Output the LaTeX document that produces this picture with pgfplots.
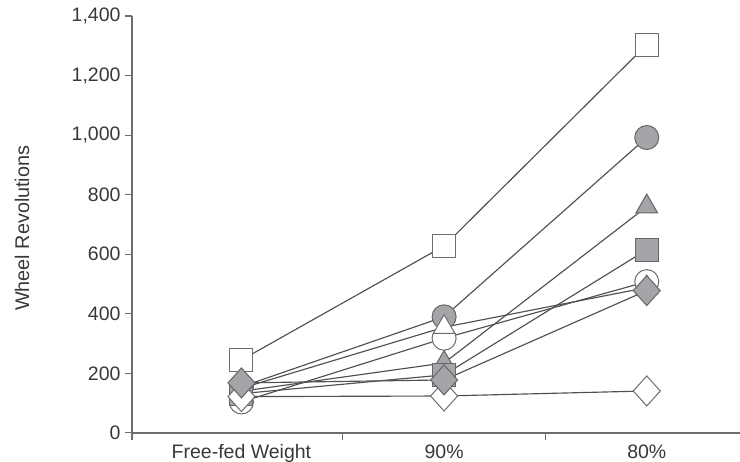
\documentclass[border=0pt]{standalone}
\usepackage{fontspec}
\setmainfont{Liberation Sans}
\usepackage{pgfplots}
\pgfplotsset{compat=1.18}
\definecolor{linec}{HTML}{505050}
\definecolor{fillc}{HTML}{A4A4A9}
\definecolor{edgec}{HTML}{666666}
\definecolor{txt}{HTML}{383838}
\definecolor{axc}{HTML}{6E6E6E}
\begin{document}
\begin{tikzpicture}
\useasboundingbox (-132pt,-21.6pt) rectangle (608pt,440.4pt);
\begin{axis}[
  at={(0,0)}, anchor=south west, scale only axis,
  width=608pt, height=424.4pt,
  xmin=-0.54, xmax=2.46, ymin=-25, ymax=1400,
  axis y line=left, axis x line=middle,
  axis line style={-, draw=axc, line width=1.2pt},
  hide obscured x ticks=false, hide obscured y ticks=false,
  tick align=outside,
  major tick length=7pt,
  tick style={draw=axc, line width=1.1pt},
  ytick={0,200,400,600,800,1000,1200,1400},
  xtick={0.5,1.5}, xticklabels={},
  extra x ticks={0,1,2},
  extra x tick labels={Free-fed Weight,90\%,80\%},
  extra x tick style={major tick length=0pt, tick style={draw=none},
     xticklabel style={yshift=-8pt}},
  /pgf/number format/.cd, 1000 sep={,}, assume math mode=true, /pgfplots/.cd,
  tick label style={font=\fontsize{19.5}{23}\selectfont, text=txt},
  yticklabel style={xshift=-1pt},
  ylabel={Wheel Revolutions},
  ylabel style={font=\fontsize{19.8}{23}\selectfont, text=txt, rotate=0,
     at={(axis description cs:-0.181,0.5)}, anchor=center},
  clip=false,
]
% lines
\addplot[linec, line width=1.15pt, no markers] coordinates {(0,245) (1,628) (2,1304)};
\addplot[linec, line width=1.15pt, no markers] coordinates {(0,155) (1,390) (2,992)};
\addplot[linec, line width=1.15pt, no markers] coordinates {(0,150) (1,355) (2,488)};
\addplot[linec, line width=1.15pt, no markers] coordinates {(0,104) (1,318) (2,508)};
\addplot[linec, line width=1.15pt, no markers] coordinates {(0,140) (1,235) (2,760)};
\addplot[linec, line width=1.15pt, no markers] coordinates {(0,132) (1,195) (2,615)};
\addplot[linec, line width=1.15pt, no markers] coordinates {(0,122) (1,124) (2,141)};
\addplot[linec, line width=1.15pt, no markers] coordinates {(0,168) (1,178) (2,478)};
% markers
\addplot[only marks, mark=square*, mark size=11.5pt, mark options={fill=white, draw=axc, line width=1pt}] coordinates {(0,245) (1,628) (2,1304)};
\addplot[only marks, mark=*, mark size=12pt, mark options={fill=fillc, draw=edgec, line width=1pt}] coordinates {(0,155) (1,390) (2,992)};
\addplot[only marks, mark=*, mark size=12pt, mark options={fill=white, draw=axc, line width=1pt}] coordinates {(0,104) (1,318) (2,508)};
\addplot[only marks, mark=triangle*, mark size=12.5pt, mark options={fill=white, draw=axc, line width=1pt}] coordinates {(0,150) (1,355) (2,488)};
\addplot[only marks, mark=triangle*, mark size=12.5pt, mark options={fill=fillc, draw=edgec, line width=1pt}] coordinates {(0,140) (1,235) (2,760)};
\addplot[only marks, mark=square*, mark size=11.5pt, mark options={fill=fillc, draw=edgec, line width=1pt}] coordinates {(0,132) (1,195) (2,615)};
\addplot[only marks, mark=diamond*, mark size=15pt, mark options={fill=white, draw=axc, line width=1pt, xscale=1.2}] coordinates {(0,122) (1,124) (2,141)};
\addplot[only marks, mark=diamond*, mark size=15pt, mark options={fill=fillc, draw=edgec, line width=1pt, xscale=1.2}] coordinates {(0,168) (1,178) (2,478)};
\end{axis}
\end{tikzpicture}
\end{document}
